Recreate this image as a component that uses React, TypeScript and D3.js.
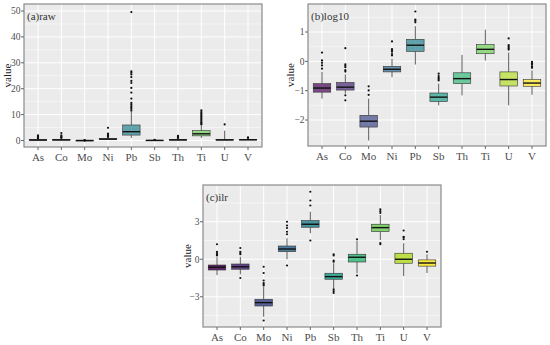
import React from 'react';
import * as d3 from 'd3';

const categories = ['As', 'Co', 'Mo', 'Ni', 'Pb', 'Sb', 'Th', 'Ti', 'U', 'V'];

// box stats per element: [lower whisker, q1, median, q3, upper whisker]
const rawBoxes = [
  [0.02, 0.1, 0.2, 0.35, 0.7],
  [0.05, 0.15, 0.25, 0.4, 0.8],
  [0.0, 0.005, 0.01, 0.015, 0.03],
  [0.25, 0.4, 0.55, 0.75, 1.2],
  [1.0, 2.1, 3.4, 6.0, 11.0],
  [0.02, 0.04, 0.06, 0.09, 0.15],
  [0.05, 0.15, 0.25, 0.45, 0.9],
  [1.0, 1.8, 2.6, 3.8, 5.8],
  [0.03, 0.15, 0.25, 0.45, 3.8],
  [0.1, 0.2, 0.3, 0.45, 0.8],
];
const rawOutliers = [
  [0.9, 1.1, 1.3, 1.6, 2.0],
  [1.0, 1.3, 1.6, 2.0, 2.9],
  [0.05, 0.08, 0.1],
  [1.4, 1.7, 2.0, 2.3, 2.7, 4.9],
  [11.5, 12.2, 12.8, 13.3, 13.9, 14.5, 16.2, 18.5, 20.3, 22.2, 23.0, 24.5, 25.5, 26.2, 26.7, 49.6],
  [0.2, 0.3],
  [1.0, 1.2, 1.5, 1.8],
  [6.2, 6.6, 7.0, 7.5, 8.0, 8.5, 9.0, 9.5, 10.0, 10.5, 11.0, 11.6],
  [6.2],
  [1.0, 1.2],
];

const logBoxes = [
  [-1.27, -1.05, -0.91, -0.76, -0.36],
  [-1.1, -0.98, -0.88, -0.72, -0.45],
  [-2.7, -2.24, -2.04, -1.84, -1.27],
  [-0.54, -0.36, -0.27, -0.17, 0.09],
  [-0.11, 0.34, 0.55, 0.75, 1.2],
  [-1.5, -1.37, -1.22, -1.08, -0.76],
  [-1.16, -0.76, -0.59, -0.39, 0.22],
  [0.03, 0.26, 0.41, 0.57, 1.08],
  [-1.5, -0.84, -0.62, -0.36, 0.3],
  [-1.14, -0.85, -0.74, -0.62, -0.31],
];
const logOutliers = [
  [0.3, 0.03, -0.05, -0.14, -0.25],
  [0.45, -0.1, -0.15, -0.2, -0.3, -0.35, -1.16, -1.33],
  [-0.85, -0.99, -1.14],
  [0.68, 0.42, 0.38, 0.33, 0.25, 0.2],
  [1.33, 1.38, 1.42, 1.7],
  [-0.42, -0.5, -0.55, -0.6, -0.65],
  [],
  [],
  [0.78, 0.55, 0.5, 0.45, 0.4],
  [-0.02, -0.07, -0.12, -0.18, -0.22],
];

const ilrBoxes = [
  [-1.26, -0.86, -0.64, -0.46, 0.16],
  [-1.2, -0.8, -0.6, -0.38, 0.2],
  [-4.6, -3.74, -3.47, -3.2, -2.2],
  [0.0, 0.61, 0.82, 1.06, 1.68],
  [2.08, 2.56, 2.8, 3.09, 3.8],
  [-2.32, -1.6, -1.39, -1.12, -0.32],
  [-1.12, -0.22, 0.16, 0.4, 1.49],
  [1.54, 2.21, 2.53, 2.8, 3.54],
  [-1.34, -0.32, 0.0, 0.48, 1.28],
  [-1.1, -0.55, -0.3, -0.05, 0.4],
];
const ilrOutliers = [
  [1.2, 0.6, 0.5, 0.4, 0.3],
  [0.9, 0.6, 0.5, 0.4, -1.5],
  [-0.6, -1.1, -1.7, -1.9, -2.0, -2.1, -4.9],
  [3.0, 2.7, 2.5, 2.2, 2.0, -0.5],
  [5.4, 4.7, 4.3, 1.5],
  [0.4, 0.3, -0.1, -0.2, -2.4, -2.55, -2.7],
  [1.6, -1.3],
  [3.7, 3.85, 4.0, 1.3, 1.2],
  [1.6, 1.75, 1.8, 2.3],
  [0.6],
];

const rawTicks = [0, 10, 20, 30, 40, 50];
const rawMinor = [5, 15, 25, 35, 45];
const logTicks = [-2, -1, 0, 1];
const logMinor = [-2.5, -1.5, -0.5, 0.5, 1.5];
const ilrTicks = [-3, 0, 3];
const ilrMinor = [-4.5, -1.5, 1.5, 4.5];

const font = '"Liberation Serif", "Times New Roman", serif';

interface PanelProps {
  x: number; y: number; w: number; h: number;
  domain: [number, number];
  ticks: number[]; minor: number[];
  boxes: number[][]; outliers: number[][];
  label: string; alpha: number; titleX: number;
}

const Panel: React.FC<PanelProps> = ({ x, y, w, h, domain, ticks, minor, boxes, outliers, label, alpha, titleX }) => {
  const xs = d3.scaleBand().domain(categories).range([0, w]).paddingOuter(0.1).paddingInner(0);
  const bw = xs.bandwidth();
  const ys = d3.scaleLinear().domain(domain).range([h, 0]);
  const fmt = (v: number) => (v < 0 ? '\u2212' + Math.abs(v) : String(v));
  return (
    <g transform={`translate(${x},${y})`}>
      <rect width={w} height={h} fill="#EBEBEB" />
      {minor.map(v => (
        <line key={'m' + v} x1={0} x2={w} y1={ys(v)} y2={ys(v)} stroke="#fff" strokeWidth={0.5} />
      ))}
      {ticks.map(v => (
        <line key={'t' + v} x1={0} x2={w} y1={ys(v)} y2={ys(v)} stroke="#fff" strokeWidth={1} />
      ))}
      {categories.map(c => (
        <line key={'g' + c} x1={xs(c)! + bw / 2} x2={xs(c)! + bw / 2} y1={0} y2={h} stroke="#fff" strokeWidth={1} />
      ))}
      {categories.map((c, i) => {
        const cx = xs(c)! + bw / 2;
        const [lo, q1, med, q3, hi] = boxes[i];
        const half = bw * 0.375;
        const col = d3.color(d3.interpolateViridis(i / 9))!;
        col.opacity = alpha;
        return (
          <g key={c}>
            <line x1={cx} x2={cx} y1={ys(hi)} y2={ys(q3)} stroke="#333" strokeWidth={0.8} />
            <line x1={cx} x2={cx} y1={ys(q1)} y2={ys(lo)} stroke="#333" strokeWidth={0.8} />
            <rect x={cx - half} width={half * 2} y={ys(q3)} height={Math.max(ys(q1) - ys(q3), 0.5)}
              fill={col.toString()} stroke="#333" strokeWidth={0.6} />
            <line x1={cx - half} x2={cx + half} y1={ys(med)} y2={ys(med)} stroke="#111" strokeWidth={1.4} />
            {outliers[i].map((o, k) => (
              <circle key={k} cx={cx} cy={ys(o)} r={1.1} fill="#111" />
            ))}
          </g>
        );
      })}
      <rect width={w} height={h} fill="none" stroke="#8a8a8a" strokeWidth={1.2} />
      {ticks.map(v => (
        <g key={'yl' + v}>
          <line x1={-3} x2={0} y1={ys(v)} y2={ys(v)} stroke="#666" />
          <text x={-3.5} y={ys(v)} dy="0.35em" textAnchor="end" fontSize={9.5} fill="#4d4d4d" fontFamily={font}>{fmt(v)}</text>
        </g>
      ))}
      {categories.map(c => (
        <g key={'xl' + c}>
          <line x1={xs(c)! + bw / 2} x2={xs(c)! + bw / 2} y1={h} y2={h + 3} stroke="#666" />
          <text x={xs(c)! + bw / 2} y={h + 14} textAnchor="middle" fontSize={11} fill="#4d4d4d" fontFamily={font}>{c}</text>
        </g>
      ))}
      <text transform={`translate(${titleX},${h / 2}) rotate(-90)`} textAnchor="middle"
        fontSize={11} fill="#222" fontFamily={font}>value</text>
      <text x={3} y={16} fontSize={11} fill="#333" fontFamily={font}>{label}</text>
    </g>
  );
};

export default function App() {
  return (
    <svg width={550} height={345} style={{ position: 'absolute', left: 0, top: 0, background: '#fff' }}>
      <Panel x={24} y={4} w={238} h={143} domain={[-2.5, 52.7]} ticks={rawTicks} minor={rawMinor}
        boxes={rawBoxes} outliers={rawOutliers} label="(a)raw" alpha={0.7} titleX={-13} />
      <Panel x={308} y={4} w={238} h={142} domain={[-2.886, 1.955]} ticks={logTicks} minor={logMinor}
        boxes={logBoxes} outliers={logOutliers} label="(b)log10" alpha={0.7} titleX={-14} />
      <Panel x={203} y={185} w={238} h={142} domain={[-5.42, 5.94]} ticks={ilrTicks} minor={ilrMinor}
        boxes={ilrBoxes} outliers={ilrOutliers} label="(c)ilr" alpha={0.85} titleX={-12} />
    </svg>
  );
}
